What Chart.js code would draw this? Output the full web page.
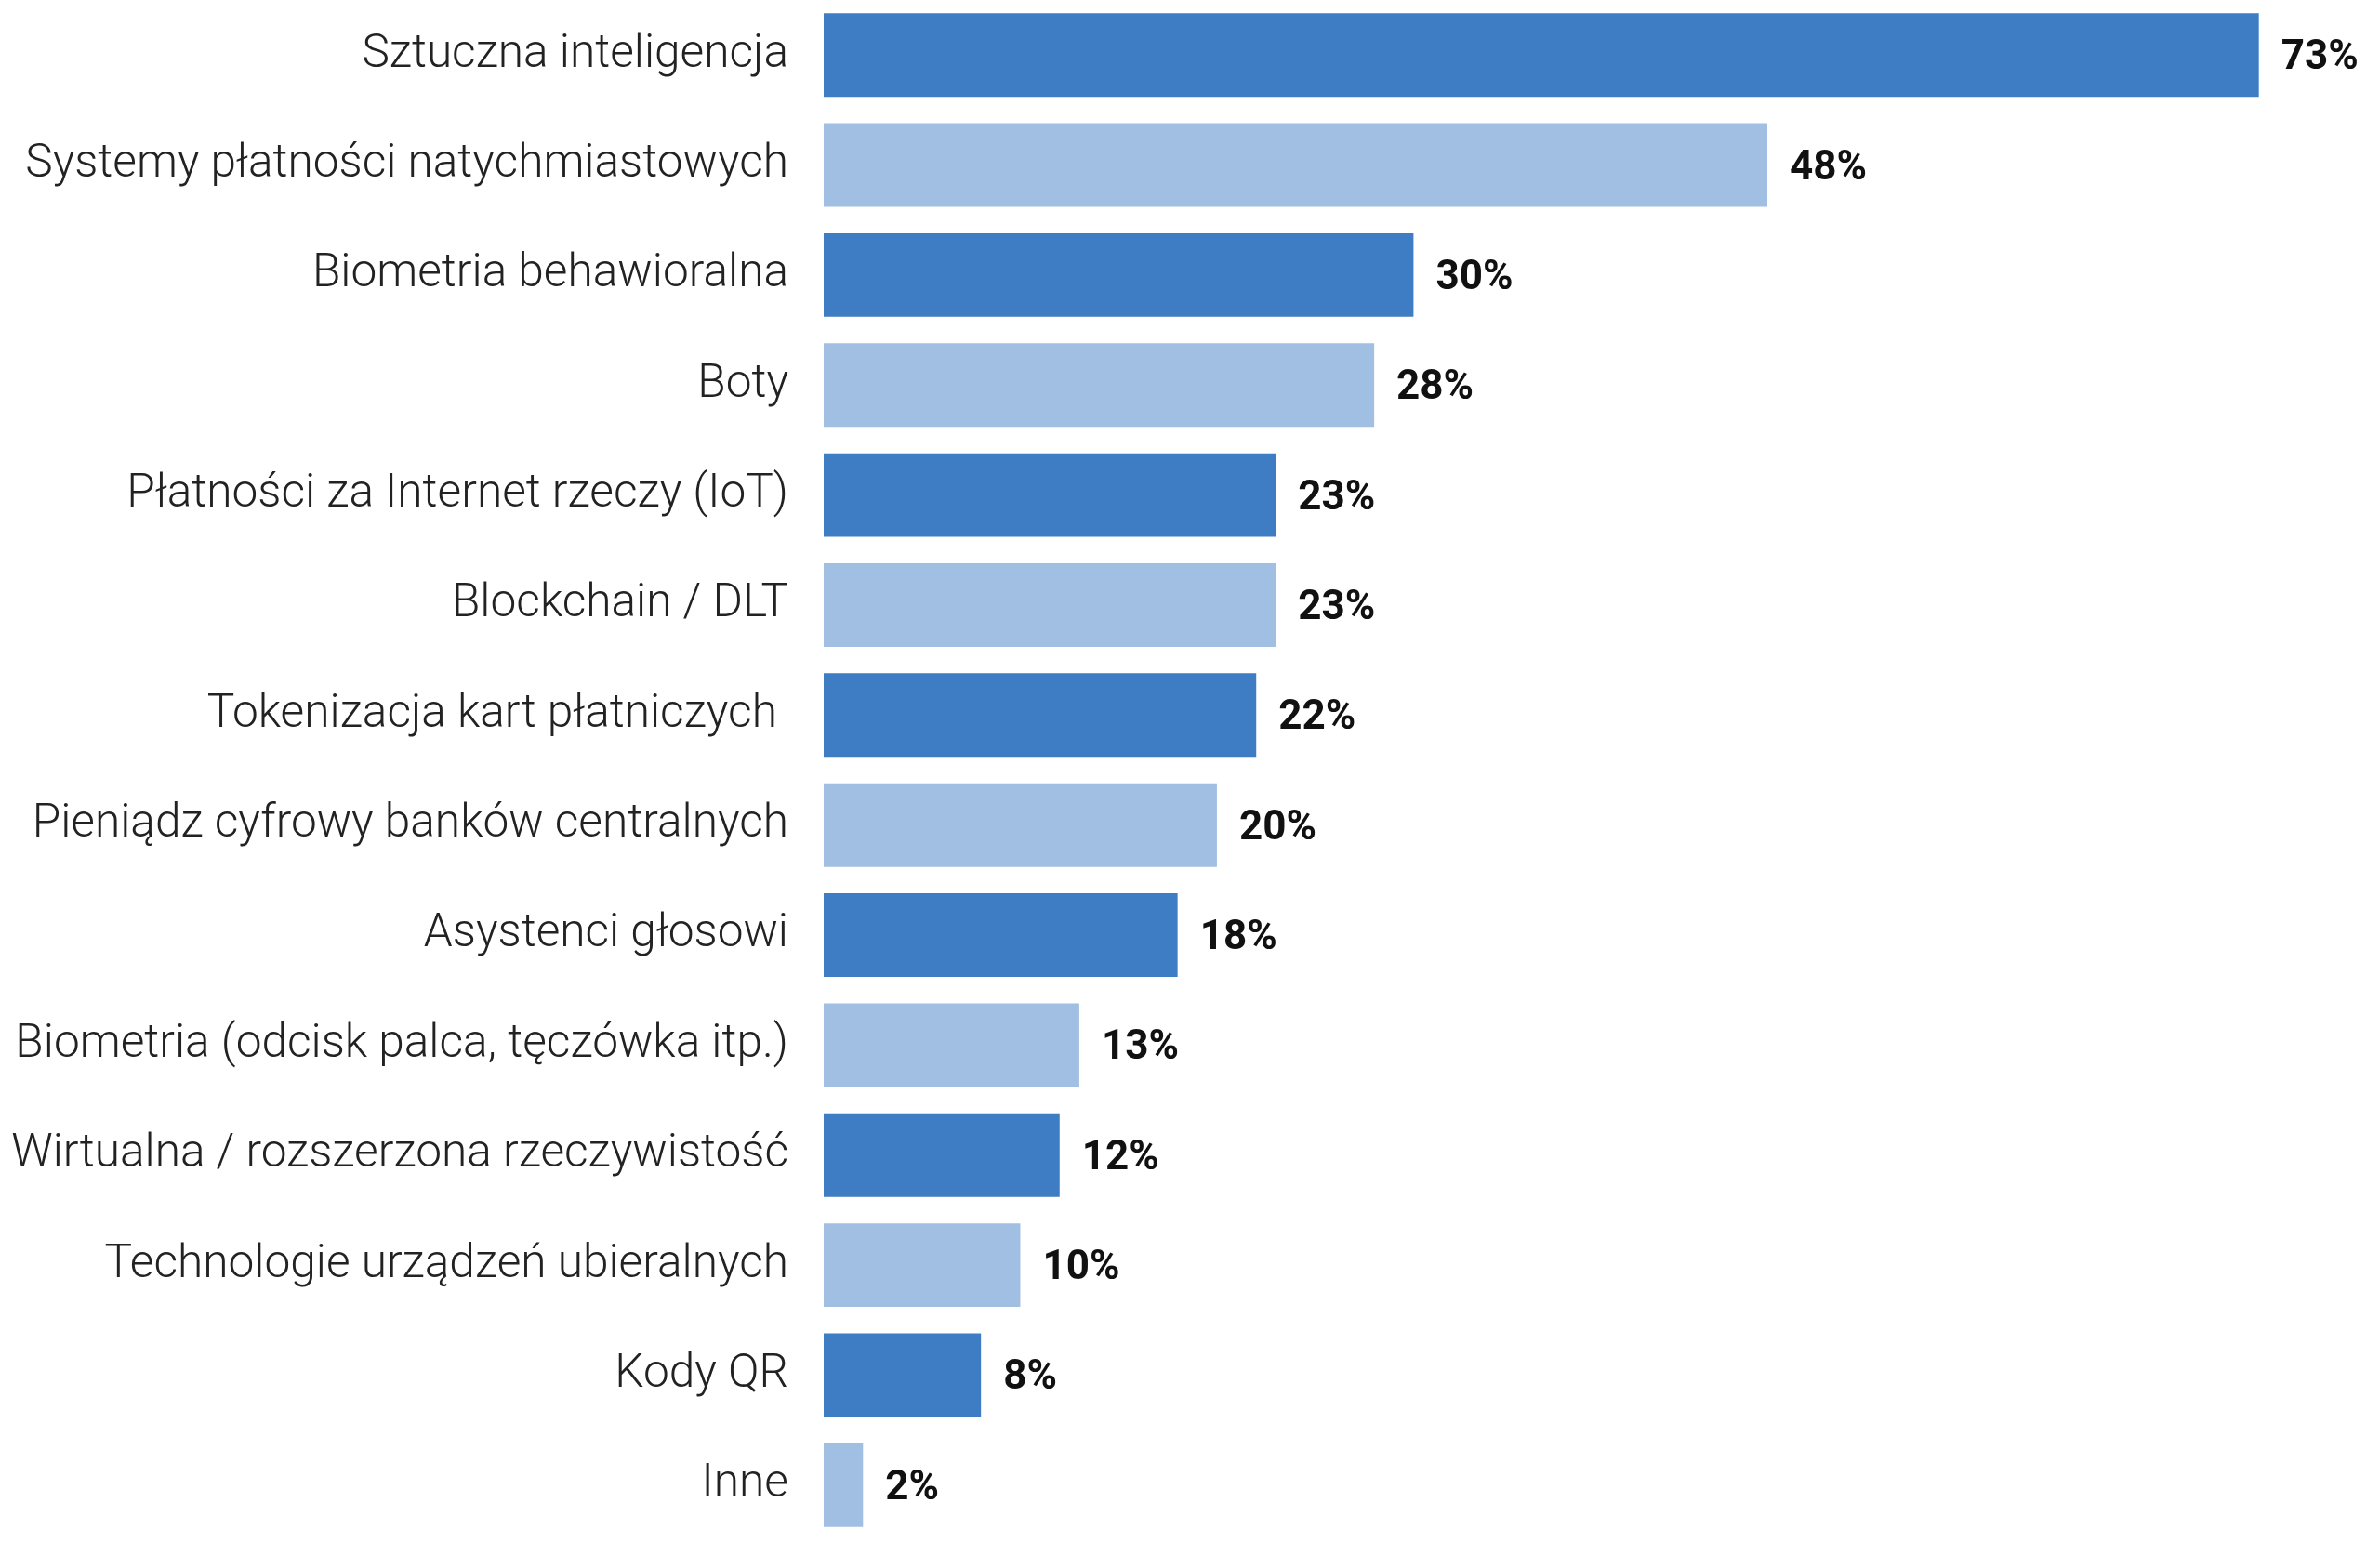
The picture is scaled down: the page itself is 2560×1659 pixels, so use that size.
<!DOCTYPE html>
<html>
<head>
<meta charset="utf-8">
<script src="https://cdn.jsdelivr.net/npm/chart.js@4"></script>
<style>
html,body{margin:0;padding:0;background:#fff;}
#wrap{width:2560px;height:1659px;position:relative;}
</style>
</head>
<body>
<div id="wrap"><canvas id="c"></canvas></div>
<script>
const categories = [
  "Sztuczna inteligencja",
  "Systemy płatności natychmiastowych",
  "Biometria behawioralna",
  "Boty",
  "Płatności za Internet rzeczy (IoT)",
  "Blockchain / DLT",
  "Tokenizacja kart płatniczych ",
  "Pieniądz cyfrowy banków centralnych",
  "Asystenci głosowi",
  "Biometria (odcisk palca, tęczówka itp.)",
  "Wirtualna / rozszerzona rzeczywistość",
  "Technologie urządzeń ubieralnych",
  "Kody QR",
  "Inne"
];
const values = [73, 48, 30, 28, 23, 23, 22, 20, 18, 13, 12, 10, 8, 2];
const valueLabels = ["73%", "48%", "30%", "28%", "23%", "23%", "22%", "20%", "18%", "13%", "12%", "10%", "8%", "2%"];
const darkBlue = "#3e7dc3";
const lightBlue = "#a0bfe2";
const barColors = categories.map((_, i) => i % 2 === 0 ? darkBlue : lightBlue);

const valueLabelPlugin = {
  id: 'valueLabels',
  afterDatasetsDraw(chart) {
    const ctx = chart.ctx;
    const meta = chart.getDatasetMeta(0);
    ctx.save();
    ctx.font = "bold 44px Roboto";
    ctx.fillStyle = "#111";
    ctx.textAlign = "left";
    ctx.textBaseline = "middle";
    meta.data.forEach((bar, i) => {
      ctx.fillText(valueLabels[i], bar.x + 24, bar.y + 4);
    });
    ctx.restore();
  }
};

new Chart(document.getElementById('c'), {
  type: 'bar',
  data: {
    labels: categories,
    datasets: [{
      data: values,
      backgroundColor: barColors,
      borderWidth: 0,
      barPercentage: 0.76,
      categoryPercentage: 1.0
    }]
  },
  options: {
    indexAxis: 'y',
    responsive: true,
    maintainAspectRatio: false,
    devicePixelRatio: 1,
    animation: false,
    layout: { padding: { top: -6, bottom: 2, left: 0, right: 88 } },
    plugins: {
      legend: { display: false },
      tooltip: { enabled: false }
    },
    scales: {
      x: {
        display: false,
        min: 0,
        max: 75
      },
      y: {
        grid: { display: false },
        border: { display: false },
        ticks: {
          color: "#222",
          font: { family: "Roboto", size: 49.6, weight: 300 },
          padding: 30
        },
        afterFit(scale) {
          scale.width = 886;
          scale.paddingTop = 0;
          scale.paddingBottom = 0;
        }
      }
    }
  },
  plugins: [valueLabelPlugin]
});
</script>
</body>
</html>
